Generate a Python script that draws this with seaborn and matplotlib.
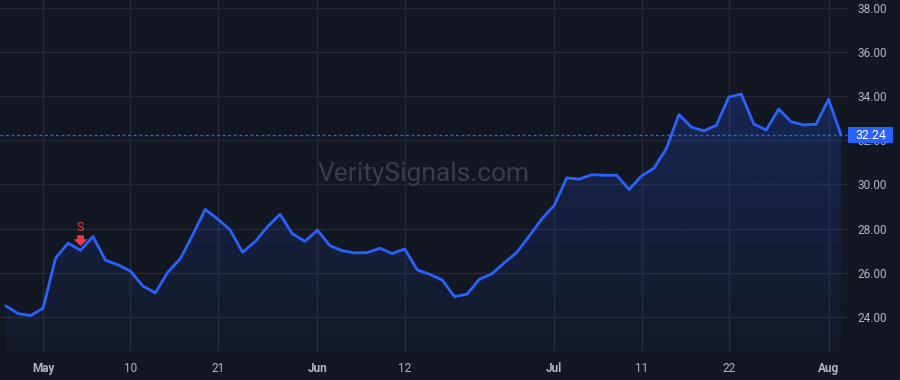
import numpy as np
import pandas as pd
import matplotlib
matplotlib.use("Agg")
import matplotlib.pyplot as plt
import matplotlib.transforms as mtransforms
from matplotlib.patches import Rectangle
import seaborn as sns
from matplotlib.colors import LinearSegmentedColormap

# ---------------- data ----------------
start_date = "2024-04-26"
end_date = "2024-08-02"
holidays = ["2024-05-27", "2024-06-19", "2024-07-04"]

prices = [
    24.50, 24.15, 24.06, 24.40, 26.67, 27.34, 27.02, 27.64, 26.57, 26.36,
    26.08, 25.40, 25.09, 26.03, 26.63, 27.72, 28.87, 28.44, 27.94, 26.93,
    27.41, 28.09, 28.65, 27.76, 27.43, 27.93, 27.23, 27.00, 26.90, 26.91,
    27.11, 26.87, 27.08, 26.14, 25.93, 25.68, 24.92, 25.03, 25.71, 25.95,
    26.46, 26.93, 27.67, 28.44, 29.06, 30.30, 30.24, 30.44, 30.42, 30.42,
    29.77, 30.39, 30.74, 31.64, 33.17, 32.60, 32.43, 32.68, 33.96, 34.10,
    32.74, 32.47, 33.42, 32.84, 32.70, 32.73, 33.86, 32.24,
]

tick_dates = ["2024-05-01", "2024-05-10", "2024-05-21", "2024-06-03", "2024-06-12",
              "2024-07-01", "2024-07-11", "2024-07-22", "2024-08-01"]
tick_labels = ["May", "10", "21", "Jun", "12", "Jul", "11", "22", "Aug"]
month_labels = ["May", "Jun", "Jul", "Aug"]

y_ticks = [24, 26, 28, 30, 32, 34, 36, 38]
last_price = 32.24
signal_date = "2024-05-06"
signal_text = "S"
watermark = "VeritySignals.com"

# ---------------- prep ----------------
dates = pd.bdate_range(start_date, end_date)
dates = dates[~dates.isin(pd.to_datetime(holidays))]
df = pd.DataFrame({"date": dates, "price": prices})
df["i"] = np.arange(len(df))
pos = {d: i for i, d in zip(df["i"], df["date"])}
tick_pos = [pos[pd.Timestamp(d)] for d in tick_dates]
sig_i = pos[pd.Timestamp(signal_date)]

BG = "#131722"
GRID = "#252a36"
LINE = "#2962ff"
TXT = "#b2b5be"

sns.set_theme(style="dark", rc={
    "axes.facecolor": BG, "figure.facecolor": BG,
    "axes.edgecolor": BG, "grid.color": GRID,
})
plt.rcParams["font.family"] = ["Roboto", "DejaVu Sans"]

W, H = 900, 380
AX_W, AX_H = 848, 352
fig = plt.figure(figsize=(W / 100, H / 100), dpi=100)
ax = fig.add_axes([0, (H - AX_H) / H, AX_W / W, AX_H / H])

ymin, ymax = 22.41, 38.36
xmin, xmax = -0.46, 67.56
ax.set_xlim(xmin, xmax)
ax.set_ylim(ymin, ymax)

# gradient fill
poly = ax.fill_between(df["i"], df["price"], ymin, color="none", lw=0)
cmap = LinearSegmentedColormap.from_list(
    "g", [(41 / 255, 98 / 255, 255 / 255, 0.03), (41 / 255, 98 / 255, 255 / 255, 0.22)])
grad = np.linspace(0, 1, 256).reshape(-1, 1)
im = ax.imshow(grad, aspect="auto", cmap=cmap, origin="lower",
               extent=[df["i"].min(), df["i"].max(), ymin, max(prices)], zorder=1)
im.set_clip_path(poly.get_paths()[0], transform=ax.transData)

sns.lineplot(data=df, x="i", y="price", ax=ax, color=LINE, lw=2, zorder=3)

# last price dotted line
ax.axhline(last_price, color=LINE, lw=1, ls=(0, (2, 2)), zorder=2)

# grid
ax.set_yticks(y_ticks)
ax.set_xticks(tick_pos)
ax.grid(True, color=GRID, lw=1)
ax.set_axisbelow(True)
ax.yaxis.tick_right()
ax.set_yticklabels([f"{v:.2f}" for v in y_ticks])
ax.set_xticklabels(tick_labels)
for lbl in ax.get_xticklabels():
    if lbl.get_text() in month_labels:
        lbl.set_fontweight("bold")
ax.tick_params(axis="y", length=0, pad=7, labelsize=8.5, labelcolor=TXT)
ax.tick_params(axis="x", length=0, pad=7, labelsize=8.5, labelcolor=TXT)
ax.set_xlabel("")
ax.set_ylabel("")
for s in ax.spines.values():
    s.set_visible(False)

# last price label box (45 x 16 px) right of the plot
px_per_unit = AX_H / (ymax - ymin)
box_h = 16 / px_per_unit
box_w = 45 / AX_W
blend = mtransforms.blended_transform_factory(ax.transAxes, ax.transData)
ax.add_patch(Rectangle((1.0, last_price - box_h / 2), box_w, box_h, transform=blend,
                       fc=LINE, ec="none", clip_on=False, zorder=10))
ax.text(1.0 + box_w / 2, last_price, f"{last_price:.2f}", transform=blend,
        ha="center", va="center", color="white", fontsize=8.8, zorder=11, clip_on=False)

# signal marker
sig_v = prices[sig_i]
ax.annotate("", xy=(sig_i, sig_v), xycoords="data",
            xytext=(0, 15), textcoords="offset pixels",
            arrowprops=dict(arrowstyle="simple,head_length=0.45,head_width=0.9,tail_width=0.45",
                            fc="#f23645", ec="none", mutation_scale=11, shrinkA=0, shrinkB=3),
            zorder=5)
ax.annotate(signal_text, xy=(sig_i, sig_v), xycoords="data",
            xytext=(0, 23), textcoords="offset pixels", ha="center", va="center",
            color="#f23645", fontsize=9, zorder=5)

# watermark
ax.text(0.5, 0.505, watermark, transform=ax.transAxes, ha="center", va="center",
        fontsize=19, color="#3a3e49", zorder=2)

fig.savefig("out.png", dpi=100, facecolor=BG)
